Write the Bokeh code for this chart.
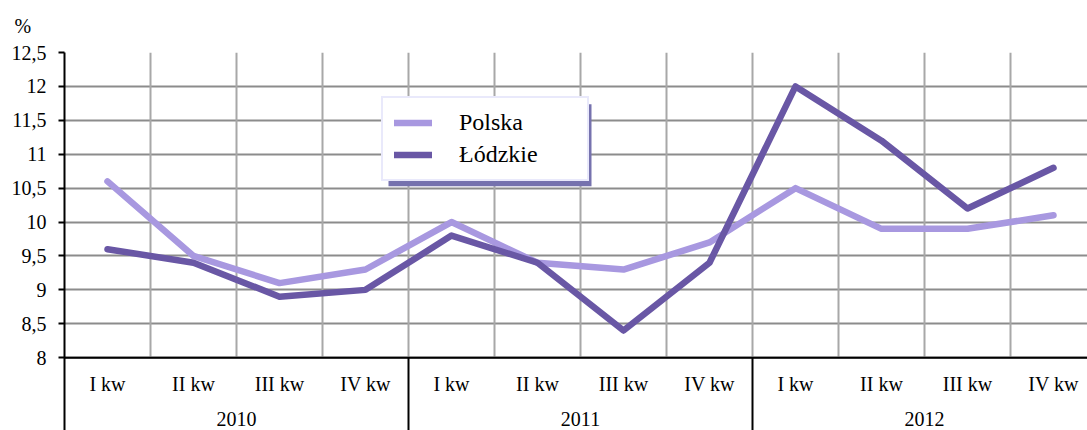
from bokeh.plotting import figure
from bokeh.models import (Range1d, FixedTicker, Span, Legend, LegendItem,
                          BoxAnnotation, ColumnDataSource, Title)
from bokeh.core.properties import value
from bokeh.embed import file_html
from bokeh.resources import INLINE

# ---- data ----
quarters = ["I kw", "II kw", "III kw", "IV kw"] * 3
years = ["2010", "2011", "2012"]
polska = [10.6, 9.5, 9.1, 9.3, 10.0, 9.4, 9.3, 9.7, 10.5, 9.9, 9.9, 10.1]
lodzkie = [9.6, 9.4, 8.9, 9.0, 9.8, 9.4, 8.4, 9.4, 12.0, 11.2, 10.2, 10.8]
series_names = ["Polska", "Łódzkie"]
y_ticks = [8, 8.5, 9, 9.5, 10, 10.5, 11, 11.5, 12, 12.5]
unit_label = "%"

FONT = "Liberation Serif"
C_POL = "#A898E0"
C_LOD = "#6957A5"

W, H = 1087, 430
LEFT, TOP = 64, 51
n = len(quarters)
px_per_cat = 86.0
px_per_unit = 68.0
frame_w = W - LEFT
frame_h = H - TOP
y_top = max(y_ticks)
y_min = min(y_ticks)
y_bot = y_top - frame_h / px_per_unit
x_end = frame_w / px_per_cat

p = figure(width=W, height=H, output_backend="svg",
           toolbar_location=None, x_axis_location=None,
           x_range=Range1d(0, x_end), y_range=Range1d(y_bot, y_top),
           min_border_left=LEFT, min_border_right=0, min_border_top=TOP,
           min_border_bottom=0)
p.title = Title(text=unit_label, align="left", offset=-50, standoff=28,
                vertical_align="top",
                text_font=FONT, text_font_size="20px", text_font_style="normal",
                text_color="black")
p.outline_line_color = None
p.background_fill_color = "white"
p.border_fill_color = "white"
p.xgrid.visible = False

ticker = FixedTicker(ticks=y_ticks)
p.yaxis.ticker = ticker
p.yaxis.major_label_overrides = {t: (str(t).replace(".", ",") if t % 1 else str(int(t))) for t in y_ticks}
p.yaxis.axis_line_color = "black"
p.yaxis.axis_line_width = 2
p.yaxis.major_tick_line_color = "black"
p.yaxis.major_tick_line_width = 2
p.yaxis.major_tick_out = 6
p.yaxis.major_tick_in = 0
p.yaxis.minor_tick_line_color = None
p.yaxis.major_label_standoff = 12
p.yaxis.major_label_text_font = FONT
p.yaxis.major_label_text_font_size = "20px"
p.yaxis.major_label_text_color = "black"

p.ygrid.ticker = ticker
p.ygrid.grid_line_color = "#8c8c8c"
p.ygrid.grid_line_width = 2

# vertical category gridlines (plot area only)
xs_v = list(range(1, n + 1))
p.segment(x0=xs_v, y0=[y_min] * len(xs_v), x1=xs_v, y1=[y_top] * len(xs_v),
          line_color="#a8a8a8", line_width=2)

# baseline axis
p.add_layout(Span(location=y_min, dimension="width", line_color="black", line_width=2))

# group separators below the baseline
seps = [4, 8]
p.segment(x0=seps, y0=[y_min] * 2, x1=seps, y1=[y_bot] * 2,
          line_color="black", line_width=2)

# category labels
xc = [i + 0.5 for i in range(n)]
y_q = y_min - 26 / px_per_unit
y_y = y_min - 61 / px_per_unit
p.text(x=xc, y=[y_q] * n, text=quarters, text_font=value(FONT), text_font_size="20px",
       text_align="center", text_baseline="middle", text_color="black")
p.text(x=[2, 6, 10], y=[y_y] * 3, text=years, text_font=value(FONT), text_font_size="20px",
       text_align="center", text_baseline="middle", text_color="black")

# series
src = ColumnDataSource(dict(x=xc, pol=polska, lod=lodzkie))
r_pol = p.line("x", "pol", source=src, line_color=C_POL, line_width=6.5,
               line_join="round", line_cap="round")
r_lod = p.line("x", "lod", source=src, line_color=C_LOD, line_width=6.5,
               line_join="round", line_cap="round")

# legend shadow
def dx(px):
    return (px - LEFT) / px_per_cat

def dy(py):
    return y_min + (357 - py) / px_per_unit

p.add_layout(BoxAnnotation(left=dx(388), right=dx(591), top=dy(103), bottom=dy(185),
                           fill_color="#7672AE", fill_alpha=1, line_color=None, level="overlay"))

legend = Legend(items=[LegendItem(label=series_names[0], renderers=[r_pol]),
                       LegendItem(label=series_names[1], renderers=[r_lod])],
                location=(317, H - 181), orientation="vertical",
                label_text_font=FONT, label_text_font_size="24px", label_text_color="black",
                glyph_width=38, glyph_height=25, label_height=25, label_width=117,
                label_standoff=27, spacing=5, padding=11, margin=0,
                border_line_color="#D4D4F7", border_line_width=2,
                background_fill_color="white", background_fill_alpha=1)
p.add_layout(legend)

open("out.html", "w").write(file_html(p, INLINE))
